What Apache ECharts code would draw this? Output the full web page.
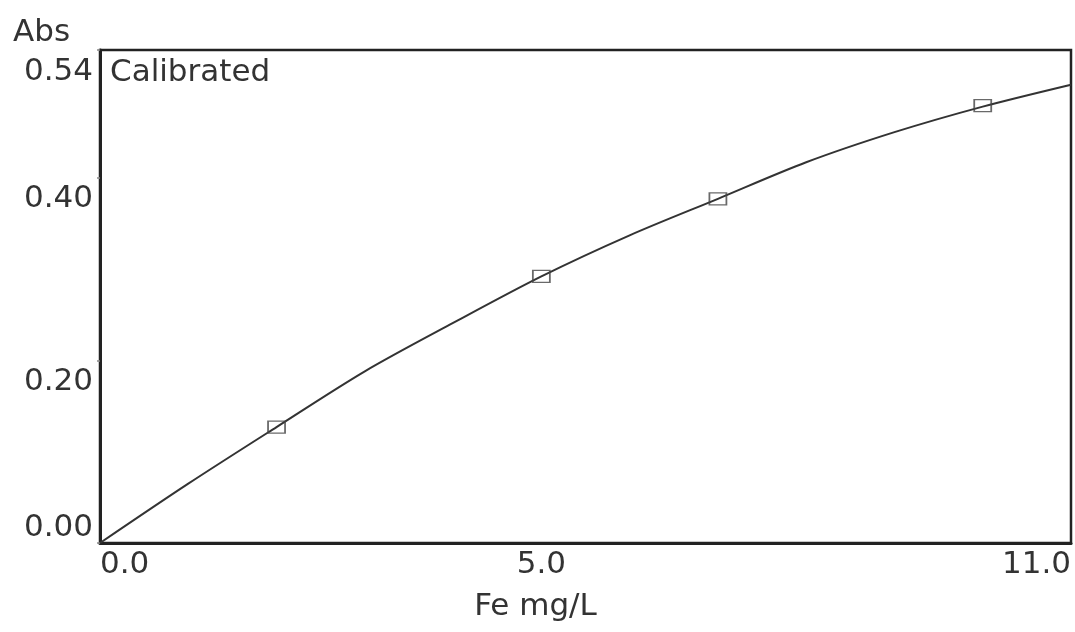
<!DOCTYPE html>
<html>
<head>
<meta charset="utf-8">
<title>Fe calibration curve</title>
<script src="https://cdn.jsdelivr.net/npm/echarts@6/dist/echarts.min.js"></script>
<style>
  html, body { margin: 0; padding: 0; background: #ffffff; }
  #chart { width: 1075px; height: 632px; }
</style>
</head>
<body>
<div id="chart"></div>
<script>
// Calibration curve (fitted line), sampled along the concentration axis
const curveConc = [0, 1, 2, 3, 4, 5, 6, 7, 8, 9, 10, 11];
const curveAbs  = [0, 0.065, 0.127, 0.188, 0.241, 0.292, 0.337, 0.377, 0.417, 0.450, 0.478, 0.502];

// Measured standards
const stdConc = [2, 5, 7, 10];
const stdAbs  = [0.127, 0.292, 0.377, 0.479];

// Axis tick labels
const xTicks = [0, 5, 11];
const yTicks = [0, 0.20, 0.40, 0.54];

const FONT = 'DejaVu Sans';
const TEXT = '#333333';

const chart = echarts.init(document.getElementById('chart'), null, { renderer: 'canvas' });

chart.setOption({
  animation: false,
  backgroundColor: '#ffffff',
  title: [
    { text: 'Abs', left: 8, top: 12,
      textStyle: { fontFamily: FONT, fontSize: 31, fontWeight: 'normal', color: TEXT } },
    { text: 'Calibrated', left: 105, top: 52,
      textStyle: { fontFamily: FONT, fontSize: 31, fontWeight: 'normal', color: TEXT } }
  ],
  grid: {
    left: 100, right: 4, top: 50, bottom: 89,
    show: true, borderColor: '#222222', borderWidth: 2.5, backgroundColor: 'transparent'
  },
  xAxis: {
    type: 'value',
    min: 0, max: 11, interval: 1,
    name: 'Fe mg/L',
    nameLocation: 'middle',
    nameGap: 48,
    nameTextStyle: { fontFamily: FONT, fontSize: 31, color: TEXT, padding: [0, 100, 0, 0] },
    axisLine: { show: true, lineStyle: { color: '#222222', width: 3 } },
    axisTick: { show: false },
    splitLine: { show: false },
    axisLabel: {
      customValues: xTicks,
      fontFamily: FONT, fontSize: 31, color: TEXT,
      margin: 6,
      align: 'center',
      alignMinLabel: 'left',
      alignMaxLabel: 'right',
      formatter: v => v.toFixed(1)
    }
  },
  yAxis: {
    type: 'value',
    min: 0, max: 0.54,
    axisLine: { show: true, lineStyle: { color: '#222222', width: 3 } },
    axisTick: { show: true, customValues: yTicks, length: 3, lineStyle: { color: '#888888', width: 1.5 } },
    splitLine: { show: false },
    axisLabel: {
      customValues: yTicks,
      fontFamily: FONT, fontSize: 31, color: TEXT,
      margin: 7,
      verticalAlign: 'top',
      verticalAlignMinLabel: 'bottom',
      verticalAlignMaxLabel: 'top',
      padding: [6, 0, 0, 0],
      formatter: v => v.toFixed(2)
    }
  },
  series: [
    {
      name: 'Calibration',
      type: 'line',
      data: curveConc.map((c, i) => [c, curveAbs[i]]),
      smooth: 0.3,
      showSymbol: false,
      lineStyle: { color: '#333333', width: 2 },
      z: 2
    },
    {
      name: 'Standards',
      type: 'scatter',
      data: stdConc.map((c, i) => [c, stdAbs[i]]),
      symbol: 'rect',
      symbolSize: [17, 12],
      itemStyle: { color: 'rgba(255,255,255,0)', borderColor: '#444444', borderWidth: 1.5 },
      z: 3
    }
  ]
});
</script>
</body>
</html>
